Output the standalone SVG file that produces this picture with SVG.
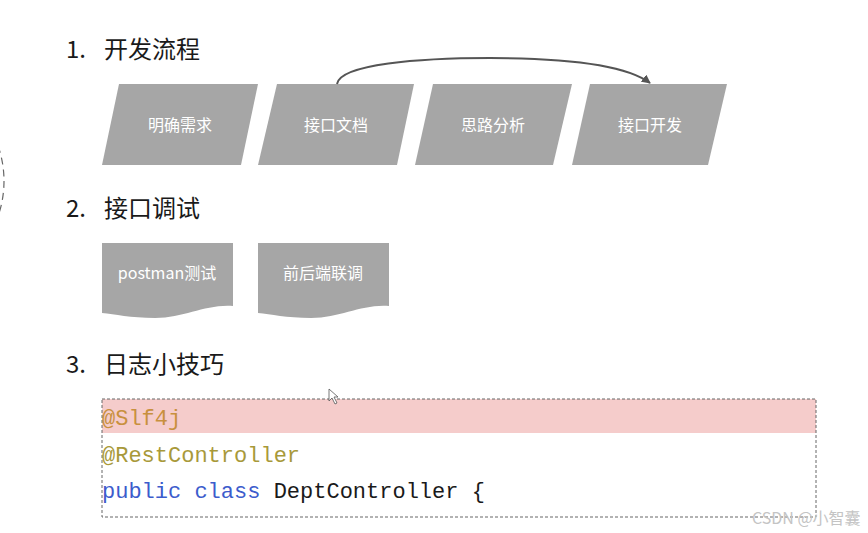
<svg xmlns="http://www.w3.org/2000/svg" width="868" height="533" viewBox="0 0 868 533">
<defs>
<style>
.h{font-family:"Noto Sans CJK SC","Noto Sans",sans-serif;font-size:24px;fill:#1a1a1a}
.lbl{font-family:"Noto Sans CJK SC","Noto Sans",sans-serif;font-size:16px;fill:#ffffff;text-anchor:middle}
.shape{fill:#a6a6a6}
.code{font-family:"Liberation Mono","Courier New",monospace;font-size:22px}
</style>
<marker id="ah" viewBox="0 0 10 10" refX="9" refY="5" markerWidth="9" markerHeight="9" markerUnits="userSpaceOnUse" orient="auto">
<path d="M0,0 L10,5 L0,10 Z" fill="#555"/>
</marker>
</defs>
<rect width="868" height="533" fill="#ffffff"/>
<circle cx="-103" cy="181" r="107" fill="none" stroke="#666" stroke-width="1.2" stroke-dasharray="7,5"/>
<text class="h" x="66" y="58">1.</text><text class="h" x="104" y="58">开发流程</text>
<text class="h" x="66" y="217">2.</text><text class="h" x="104" y="217">接口调试</text>
<text class="h" x="66" y="373">3.</text><text class="h" x="104" y="373">日志小技巧</text>
<g id="n1"><polygon class="shape" points="119,84 258,84 241,165 102,165"/><text class="lbl" x="180" y="131">明确需求</text></g>
<g id="n2"><polygon class="shape" points="277,84 414,84 397,165 258,165"/><text class="lbl" x="336" y="131">接口文档</text></g>
<g id="n3"><polygon class="shape" points="433,84 572,84 553,165 415,165"/><text class="lbl" x="493" y="131">思路分析</text></g>
<g id="n4"><polygon class="shape" points="590,84 727,84 708,165 572,165"/><text class="lbl" x="650" y="131">接口开发</text></g>
<g id="n5"><path class="shape" d="M102,243 H233 V306 C205,304 185,318 155,318 C130,318 115,314 102,313 Z"/><text class="lbl" x="167" y="279">postman测试</text></g>
<g id="n6"><path class="shape" d="M258,243 H389 V306 C361,304 341,318 311,318 C286,318 271,314 258,313 Z"/><text class="lbl" x="323" y="279">前后端联调</text></g>
<g id="connectors">
<path d="M337,84 C340,64 420,58 490,58 C560,58 625,64 650,83" fill="none" stroke="#555" stroke-width="2" marker-end="url(#ah)"/>
</g>
<g id="code">
<rect x="102" y="399" width="714" height="34" fill="#f5cccb"/>
<rect x="102" y="399" width="714" height="118" fill="none" stroke="#666" stroke-width="1" stroke-dasharray="3,2"/>
<text class="code" x="102" y="425" fill="#c8903e">@Slf4j</text>
<text class="code" x="102" y="462" fill="#a8993a">@RestController</text>
<text class="code" x="102" y="498"><tspan fill="#3c5ccc">public class</tspan><tspan fill="#1a1a1a"> DeptController {</tspan></text>
</g>
<polygon points="329,389 329,401 332,398 335,404 337,403 334,397 338,397" fill="#ffffff" stroke="#555" stroke-width="0.8"/>
<text x="752" y="524" font-family="'Noto Sans CJK SC','Noto Sans',sans-serif" font-size="16" fill="#c4c4c4">CSDN @小智囊</text>
</svg>
